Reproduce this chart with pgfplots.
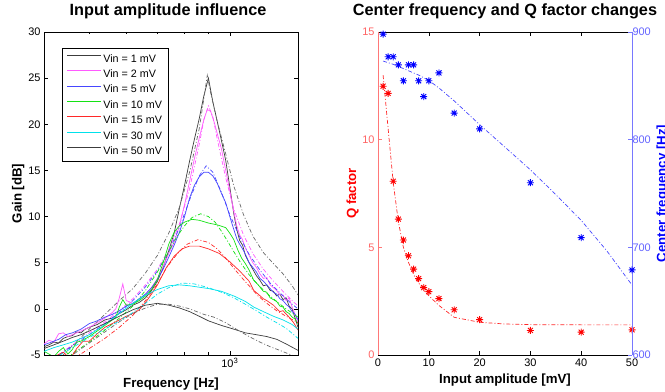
\documentclass[border=0pt]{standalone}
\usepackage{fontspec}
\setmainfont{Liberation Sans}
\usepackage{pgfplots}
\pgfplotsset{compat=1.18}
\definecolor{lgray}{RGB}{60,60,60}
\definecolor{lgrayf}{RGB}{105,105,105}
\definecolor{lmag}{RGB}{255,90,255}
\definecolor{lblue}{RGB}{70,70,255}
\definecolor{lgreen}{RGB}{20,225,20}
\definecolor{lred}{RGB}{255,40,40}
\definecolor{lcyan}{RGB}{0,225,235}
\definecolor{qaxis}{RGB}{255,120,120}
\definecolor{qtick}{RGB}{255,100,100}
\definecolor{faxis}{RGB}{120,120,255}
\definecolor{ftick}{RGB}{100,100,255}
\pgfdeclareplotmark{mstar}{%
\pgfpathmoveto{\pgfqpoint{-\pgfplotmarksize}{0pt}}\pgfpathlineto{\pgfqpoint{\pgfplotmarksize}{0pt}}%
\pgfpathmoveto{\pgfqpoint{0pt}{-\pgfplotmarksize}}\pgfpathlineto{\pgfqpoint{0pt}{\pgfplotmarksize}}%
\pgfpathmoveto{\pgfqpoint{-0.707\pgfplotmarksize}{-0.707\pgfplotmarksize}}\pgfpathlineto{\pgfqpoint{0.707\pgfplotmarksize}{0.707\pgfplotmarksize}}%
\pgfpathmoveto{\pgfqpoint{-0.707\pgfplotmarksize}{0.707\pgfplotmarksize}}\pgfpathlineto{\pgfqpoint{0.707\pgfplotmarksize}{-0.707\pgfplotmarksize}}%
\pgfusepathqstroke}
\pgfplotsset{
 mystyle/.style={scale only axis, width=254bp, height=323bp, anchor=south west,
   tick align=inside, major tick length=4bp, minor tick length=2.5bp,
   every tick/.style={line width=0.5bp},
   axis line style={line width=0.6bp},
   tick label style={font=\fontsize{11}{13}\selectfont},
   label style={font=\bfseries\fontsize{13.3}{15}\selectfont},
   title style={font=\bfseries\fontsize{16.3}{19}\selectfont, at={(axis description cs:0.5,1.0319)}, anchor=base},
   /pgf/number format/assume math mode=true},
 fitl/.style={line width=0.7bp, dash pattern=on 4bp off 2bp on 1bp off 2bp, forget plot},
 meas/.style={line width=0.7bp},
}
\begin{document}
\begin{tikzpicture}
\useasboundingbox (0,0) rectangle (665bp,392bp);
\begin{axis}[mystyle, at={(44bp,37bp)},
  xmode=log, xmin=400, xmax=1400, ymin=-5, ymax=30,
  ytick={-5,0,5,10,15,20,25,30},
  xtick={1000}, xticklabels={10\textsuperscript{3}},
  minor xtick={500,600,700,800,900},
  title={Input amplitude influence}, title style={xshift=-3bp},
  xlabel={Frequency [Hz]}, ylabel={Gain [dB]},
  xlabel style={at={(axis description cs:0.5,-0.1015)}, anchor=base},
  ylabel style={at={(axis description cs:-0.0886,0.5)}, anchor=base},
  legend style={at={(0.072,0.9495)}, anchor=north west, draw=black, line width=0.5bp, fill=white,
     inner xsep=4.5bp, inner ysep=2.5bp, row sep=0bp, font=\fontsize{10.8}{13}\selectfont,
     nodes={inner sep=1.5bp, text height=9.5bp, text depth=2.9bp}},
  legend cell align=left,
  legend image code/.code={\draw[#1, line width=0.8bp] (0bp,3.5bp) -- (34bp,3.5bp);},
]
% 1 mV
\addplot[meas, lgray] coordinates {(400,-4.1) (410,-3.9) (420,-3.6) (430,-3.7) (440,-3.2) (450,-3.0) (460,-2.9) (470,-2.5) (480,-2.6) (490,-2.2) (500,-2.0) (520,-1.7) (540,-1.2) (560,-1.0) (580,-0.5) (600,-0.1) (620,0.4) (640,0.7) (660,1.2) (680,2.0) (700,3.0) (720,4.5) (740,6.3) (760,8.2) (780,10.9) (800,13.4) (820,16.0) (840,18.4) (860,20.6) (880,23.1) (900,25.0) (920,22.4) (940,20.3) (960,18.2) (980,16.1) (1000,13.2) (1020,10.3) (1035,8.6) (1050,7.4) (1065,6.9) (1080,5.8) (1100,5.0) (1120,4.3) (1140,3.6) (1160,3.1) (1180,2.5) (1200,2.6) (1220,2.0) (1240,1.9) (1260,1.4) (1280,1.6) (1300,1.0) (1320,1.2) (1340,0.3) (1360,0.0) (1380,-1.0) (1400,-2.0)};
\addlegendentry{Vin = 1 mV}
\addplot[fitl, lgrayf] coordinates {(400,-7.2) (430,-5.5) (460,-4.0) (500,-2.2) (540,-0.6) (580,0.9) (620,2.2) (660,3.9) (700,5.8) (740,8.2) (780,11.0) (820,14.8) (860,19.5) (880,22.8) (895,25.3) (910,23.4) (940,20.3) (980,16.8) (1020,13.3) (1070,10.2) (1120,7.9) (1180,6.1) (1240,4.9) (1300,3.8) (1360,2.5) (1400,1.5)};
% 2 mV
\addplot[meas, lmag] coordinates {(400,-3.8) (410,-3.4) (420,-3.6) (430,-2.7) (440,-2.6) (450,-3.0) (460,-2.8) (480,-2.4) (500,-2.0) (520,-1.5) (540,-1.0) (560,-0.4) (570,0.0) (580,1.2) (590,2.7) (600,0.9) (620,0.6) (640,1.0) (660,1.6) (680,2.3) (700,3.3) (720,4.6) (740,6.0) (760,7.2) (780,9.0) (800,11.3) (820,13.8) (840,16.3) (860,18.5) (880,20.5) (895,21.6) (910,21.4) (925,20.3) (940,19.0) (960,17.3) (980,15.0) (1000,12.8) (1020,10.5) (1035,9.0) (1050,8.0) (1065,7.5) (1080,6.6) (1100,5.8) (1120,5.0) (1140,4.5) (1160,3.8) (1180,3.3) (1200,3.4) (1220,2.6) (1240,2.3) (1260,2.0) (1280,1.5) (1300,1.5) (1320,0.9) (1340,1.2) (1360,0.2) (1380,-0.6) (1400,-1.5)};
\addlegendentry{Vin = 2 mV}
\addplot[fitl, lmag] coordinates {(400,-6.0) (430,-5.0) (460,-3.9) (500,-2.6) (540,-1.4) (580,-0.2) (620,1.1) (660,2.6) (700,4.3) (740,6.4) (780,9.2) (820,13.0) (860,17.8) (880,20.5) (900,22.0) (920,20.8) (940,18.4) (980,14.2) (1020,10.8) (1070,8.0) (1120,6.0) (1180,4.3) (1240,3.0) (1300,1.9) (1360,0.9) (1400,0.3)};
% 5 mV
\addplot[meas, lblue] coordinates {(400,-3.9) (415,-3.6) (430,-3.3) (445,-2.8) (460,-2.6) (480,-2.2) (500,-1.6) (520,-1.3) (540,-0.9) (560,-0.6) (580,-0.2) (600,0.3) (620,0.6) (640,1.1) (660,1.6) (680,2.3) (700,3.2) (720,4.3) (740,5.6) (760,6.9) (780,8.3) (800,10.0) (820,12.0) (840,13.4) (860,14.3) (880,14.8) (900,14.8) (920,14.4) (940,13.6) (960,12.5) (980,11.5) (1000,10.0) (1020,8.6) (1035,7.6) (1050,7.0) (1065,6.5) (1080,5.9) (1100,5.0) (1120,4.5) (1140,4.0) (1160,3.3) (1180,3.0) (1200,2.6) (1220,2.2) (1240,1.8) (1260,1.6) (1280,1.1) (1300,0.9) (1320,0.5) (1340,0.2) (1360,-0.3) (1380,-0.6) (1400,-1.2)};
\addlegendentry{Vin = 5 mV}
\addplot[fitl, lblue] coordinates {(400,-6.0) (430,-5.0) (460,-4.0) (500,-2.8) (540,-1.6) (580,-0.4) (620,0.9) (660,2.4) (700,4.1) (740,6.2) (780,8.8) (820,11.8) (860,14.4) (890,15.5) (920,14.8) (960,12.6) (1000,10.2) (1050,7.8) (1100,5.9) (1160,4.2) (1220,2.8) (1300,1.4) (1360,0.5) (1400,0.0)};
% 10 mV
\addplot[meas, lgreen] coordinates {(400,-4.6) (410,-4.9) (420,-5.2) (430,-4.6) (440,-4.2) (450,-4.9) (460,-4.4) (470,-3.6) (480,-3.5) (500,-3.0) (520,-2.4) (540,-1.8) (560,-1.2) (570,-0.9) (580,0.2) (590,1.0) (600,0.4) (620,0.5) (640,0.9) (660,1.4) (680,2.1) (700,3.2) (720,5.0) (740,7.0) (760,8.3) (780,9.0) (800,9.4) (830,9.7) (860,9.6) (900,9.3) (940,9.1) (980,8.8) (1000,8.2) (1020,7.5) (1040,6.4) (1060,5.5) (1080,4.9) (1100,4.2) (1125,3.1) (1150,2.6) (1180,1.9) (1200,1.8) (1220,1.2) (1240,1.0) (1260,0.8) (1280,0.3) (1300,0.2) (1320,-0.3) (1340,-0.5) (1360,-0.9) (1380,-1.1) (1400,-1.6)};
\addlegendentry{Vin = 10 mV}
\addplot[fitl, lgreen] coordinates {(400,-7.0) (450,-5.2) (500,-3.6) (540,-2.3) (580,-1.0) (620,0.3) (660,2.0) (700,4.0) (740,6.2) (770,7.8) (800,9.0) (830,9.9) (866,10.3) (900,10.0) (930,9.4) (960,8.4) (990,7.3) (1020,6.2) (1055,5.0) (1100,3.7) (1150,2.6) (1200,1.7) (1260,0.8) (1320,0.0) (1400,-0.9)};
% 15 mV
\addplot[meas, lred] coordinates {(400,-5.6) (420,-5.2) (440,-4.7) (455,-5.4) (470,-4.3) (485,-3.5) (500,-3.5) (520,-2.7) (540,-2.0) (560,-1.6) (580,-1.2) (600,-0.8) (620,-0.5) (640,-0.1) (660,0.7) (680,1.6) (700,2.6) (730,4.4) (760,5.7) (790,6.5) (820,6.8) (860,6.8) (900,6.5) (950,6.0) (1000,5.1) (1050,4.1) (1100,3.0) (1125,2.0) (1150,1.6) (1180,1.1) (1200,0.9) (1240,0.4) (1280,-0.3) (1300,-0.2) (1340,-0.9) (1370,-1.5) (1400,-2.3)};
\addlegendentry{Vin = 15 mV}
\addplot[fitl, lred] coordinates {(400,-7.5) (450,-5.8) (500,-4.3) (540,-3.2) (580,-2.0) (620,-0.7) (660,0.9) (700,2.7) (733,4.5) (770,5.9) (810,7.0) (855,7.5) (900,7.2) (940,6.5) (980,5.5) (1020,4.4) (1060,3.4) (1100,2.5) (1150,1.4) (1200,0.6) (1260,-0.2) (1320,-0.8) (1400,-1.5)};
% 30 mV
\addplot[meas, lcyan] coordinates {(400,-4.6) (420,-4.2) (440,-3.9) (460,-3.6) (480,-3.2) (500,-2.8) (530,-2.0) (560,-1.1) (580,-0.5) (620,0.6) (660,1.5) (700,2.1) (740,2.5) (780,2.6) (820,2.5) (900,2.2) (960,1.9) (1020,1.4) (1080,0.8) (1125,0.2) (1180,-0.3) (1240,-0.8) (1300,-1.2) (1360,-1.7) (1400,-2.2)};
\addlegendentry{Vin = 30 mV}
\addplot[fitl, lcyan] coordinates {(400,-6.0) (450,-4.5) (500,-3.1) (540,-2.2) (580,-1.3) (620,-0.4) (660,0.6) (700,1.6) (740,2.3) (790,2.8) (840,2.7) (900,2.3) (960,1.8) (1020,1.2) (1080,0.5) (1140,-0.2) (1200,-0.9) (1260,-1.5) (1320,-2.1) (1400,-3.2)};
% 50 mV
\addplot[meas, lgray] coordinates {(400,-4.3) (420,-3.9) (440,-3.5) (460,-3.1) (480,-2.8) (500,-2.4) (540,-1.6) (580,-0.8) (620,-0.1) (660,0.4) (700,0.6) (740,0.4) (780,0.1) (820,-0.3) (860,-0.8) (900,-1.3) (960,-1.8) (1020,-2.2) (1080,-2.6) (1140,-2.8) (1200,-3.0) (1260,-3.3) (1320,-3.8) (1400,-4.5)};
\addlegendentry{Vin = 50 mV}
\addplot[fitl, lgrayf] coordinates {(400,-7.0) (460,-5.0) (500,-3.7) (540,-2.5) (580,-1.4) (620,-0.5) (660,0.1) (700,0.5) (740,0.5) (780,0.3) (820,0.0) (880,-0.6) (925,-0.9) (980,-1.5) (1040,-2.3) (1100,-3.0) (1160,-3.6) (1220,-4.1) (1280,-4.5) (1340,-4.9) (1400,-5.3)};
\end{axis}

% Right: Q factor
\begin{axis}[mystyle, at={(378bp,37bp)},
  xmin=0, xmax=50, ymin=0, ymax=15,
  xtick={0,10,20,30,40,50}, ytick={0,5,10,15},
  xtick pos=both, ytick pos=left,
  separate axis lines,
  y axis line style={draw=qaxis},
  ytick style={draw=qaxis},
  yticklabel style={text=qtick},
  clip=false,
  title={Center frequency and Q factor changes},
  xlabel={Input amplitude [mV]}, ylabel={Q factor},
  xlabel style={at={(axis description cs:0.5,-0.0867)}, anchor=base},
  ylabel style={at={(axis description cs:-0.0866,0.5)}, anchor=base, text=red},
]
\addplot[fitl, lred] coordinates {(1,13.0) (2,10.5) (3,8.0) (4,6.2) (5,5.0) (6,4.3) (7,3.75) (8,3.35) (9,3.0) (10,2.75) (12,2.3) (15,1.75) (20,1.52) (25,1.44) (30,1.41) (40,1.40) (50,1.40)};
\addplot[only marks, mark=mstar, mark size=3.5bp, red, line width=0.9bp] coordinates {(1,12.48) (2,12.15) (3,8.07) (4,6.31) (5,5.34) (6,4.61) (7,3.99) (8,3.55) (9,3.13) (10,2.94) (12,2.62) (15,2.10) (20,1.64) (30,1.14) (40,1.06) (50,1.17)};
\end{axis}

% Right: centre frequency
\begin{axis}[mystyle, at={(378bp,37bp)},
  xmin=0, xmax=50, ymin=600, ymax=900,
  axis y line*=right, axis x line=none,
  ytick={600,700,800,900},
  y axis line style={draw=faxis},
  ytick style={draw=faxis},
  yticklabel style={text=ftick, xshift=-3bp},
  clip=false,
  ylabel={Center frequency [Hz]},
  ylabel style={at={(axis description cs:1.1346,0.5)}, anchor=base, text=blue},
]
\addplot[fitl, lblue] coordinates {(1,873) (3,870) (5,866) (8,860) (10,855) (12,848) (15,836) (20,814) (25,793) (30,772) (35,749) (40,725) (45,697) (50,665)};
\addplot[only marks, mark=mstar, mark size=3.5bp, blue, line width=0.9bp] coordinates {(1,898) (2,877) (3,877) (4,869.5) (5,854.7) (6,869.5) (7,869.5) (8,854.7) (9,840) (10,854.7) (12,862) (15,824.7) (20,810) (30,760) (40,709) (50,679)};
\end{axis}
\end{tikzpicture}
\end{document}
